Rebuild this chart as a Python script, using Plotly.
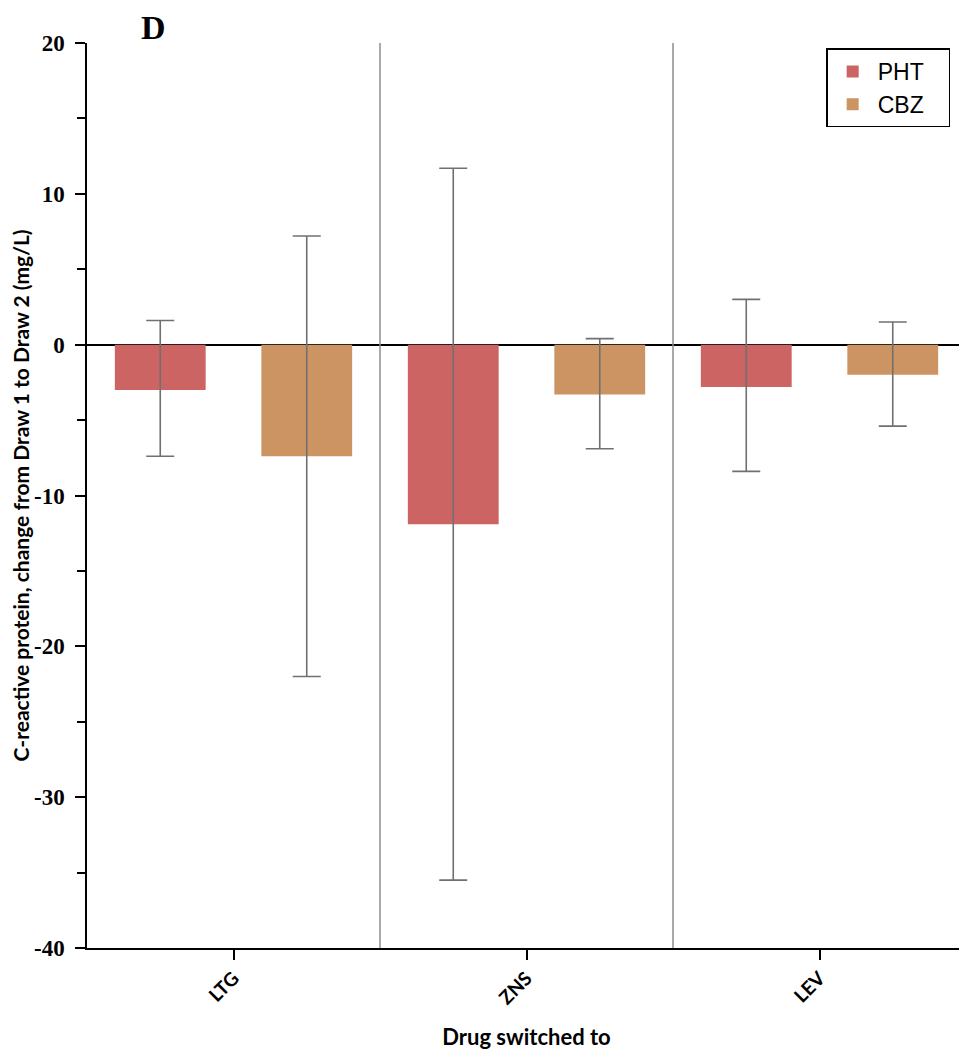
import plotly.graph_objects as go

categories = ["LTG", "ZNS", "LEV"]
pht_values = [-3.0, -11.9, -2.8]
pht_upper = [1.6, 11.7, 3.0]
pht_lower = [-7.4, -35.5, -8.4]
cbz_values = [-7.4, -3.3, -2.0]
cbz_upper = [7.2, 0.4, 1.5]
cbz_lower = [-22.0, -6.9, -5.4]
y_ticks = [-40, -30, -20, -10, 0, 10, 20]
y_tick_labels = ["-40", "-30", "-20", "-10", "0", "10", "20"]

PHT_COLOR = "#CD6464"
CBZ_COLOR = "#CC9463"
ERR_COLOR = "#707070"
PAD = "\u00a0" * 3

def err(vals, up, lo):
    return dict(type="data", symmetric=False,
                array=[u - v for u, v in zip(up, vals)],
                arrayminus=[v - l for v, l in zip(vals, lo)],
                color=ERR_COLOR, thickness=1.6, width=14)

fig = go.Figure()
fig.add_trace(go.Bar(x=categories, y=pht_values, name="PHT" + PAD, marker_color=PHT_COLOR,
                     marker_line_width=0, error_y=err(pht_values, pht_upper, pht_lower)))
fig.add_trace(go.Bar(x=categories, y=cbz_values, name="CBZ" + PAD, marker_color=CBZ_COLOR,
                     marker_line_width=0, error_y=err(cbz_values, cbz_upper, cbz_lower)))

for xv in [0.5, 1.5]:
    fig.add_shape(type="line", xref="x", yref="paper", x0=xv, x1=xv, y0=0, y1=1,
                  line=dict(color="#8c8c8c", width=1.5), layer="above")

fig.add_annotation(text="<b>D</b>", xref="paper", yref="paper", x=(139 - 87) / 879, y=1,
                   xanchor="left", yanchor="top", yshift=36, showarrow=False,
                   font=dict(family="Liberation Serif", size=34, color="black"))

fig.update_layout(
    width=959, height=1042,
    margin=dict(l=79, r=1, t=35, b=102),
    paper_bgcolor="white", plot_bgcolor="white",
    barmode="group", bargap=0.0, bargroupgap=0.38,
    showlegend=True,
    legend=dict(x=0.982, y=0.994, xanchor="right", yanchor="top",
                bordercolor="black", borderwidth=1.5, bgcolor="white",
                font=dict(family="Liberation Sans", size=23, color="black"),
                itemwidth=40, tracegroupgap=0),
    xaxis=dict(
        showline=True, linecolor="black", linewidth=1.5,
        ticks="outside", ticklen=10, tickwidth=1.5, tickcolor="black",
        tickangle=-45,
        tickfont=dict(family="Lato", size=19, color="black", weight="bold"),
        title=dict(text="<b>Drug switched to</b>", standoff=22,
                   font=dict(family="Lato", size=22, color="black")),
        showgrid=False,
    ),
    yaxis=dict(
        range=[-40, 20],
        tickvals=y_ticks, ticktext=y_tick_labels,
        showline=True, linecolor="black", linewidth=1.5,
        ticks="outside", ticklen=10, tickwidth=1.5, tickcolor="black",
        ticklabelstandoff=6,
        minor=dict(dtick=5, ticks="outside", ticklen=8, tickwidth=1.5, tickcolor="black"),
        tickfont=dict(family="Liberation Serif", size=23, color="black", weight="bold"),
        showgrid=False,
        zeroline=True, zerolinecolor="black", zerolinewidth=1.5,
        title=dict(text="<b>C-reactive protein, change from Draw 1 to Draw 2 (mg/L)</b>",
                   standoff=8,
                   font=dict(family="Lato", size=21, color="black")),
    ),
)

fig.write_html("out.html")
